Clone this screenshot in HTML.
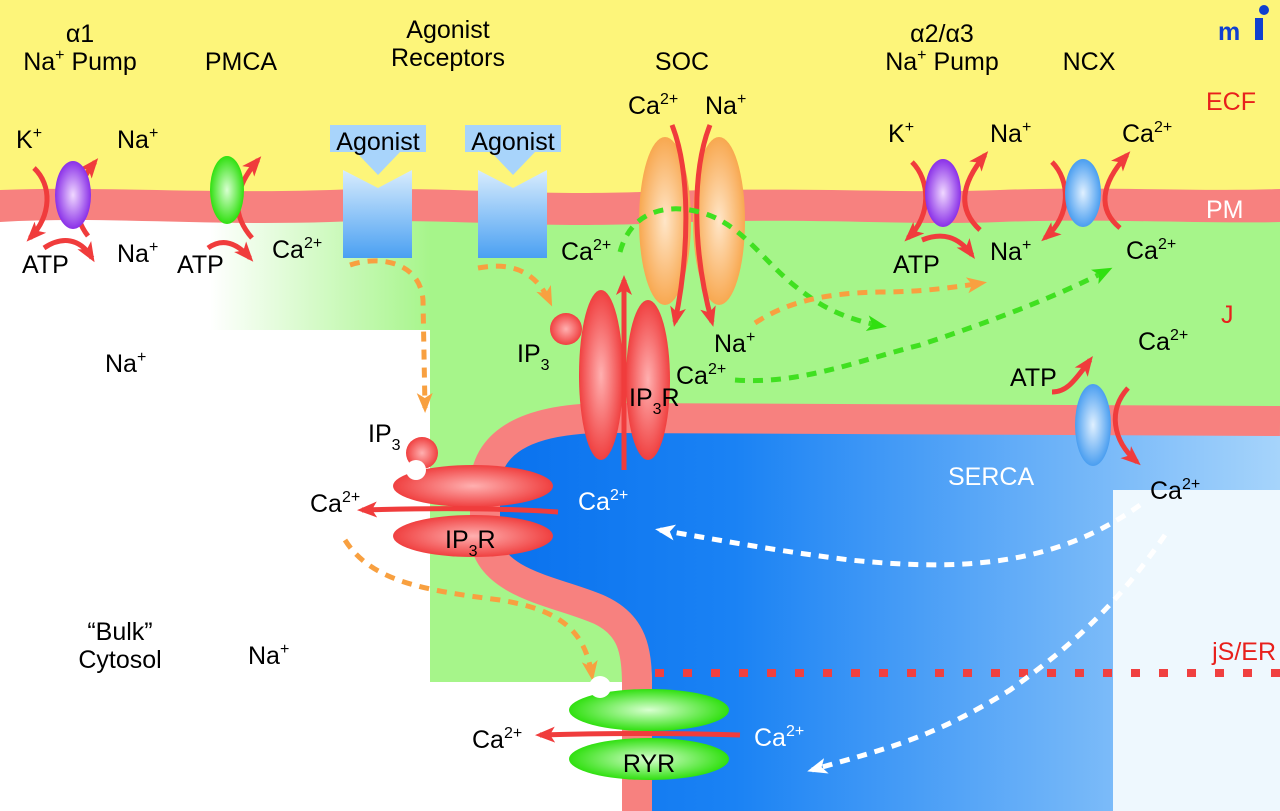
<!DOCTYPE html>
<html><head><meta charset="utf-8"><style>
html,body{margin:0;padding:0;background:#fff}
svg{display:block}
text{font-family:"Liberation Sans",sans-serif;font-size:25px;fill:#000}
.w{fill:#fff}.r{fill:#e8201c}
</style></head><body>
<svg width="1280" height="811" viewBox="0 0 1280 811" xmlns="http://www.w3.org/2000/svg">
<defs>
<linearGradient id="gfade" x1="0" x2="1" y1="0" y2="0">
<stop offset="0" stop-color="#a6f58a" stop-opacity="0"/><stop offset="1" stop-color="#a6f58a"/></linearGradient>
<linearGradient id="blue" x1="0" x2="1" y1="0" y2="0">
<stop offset="0" stop-color="#0a72ee"/><stop offset="0.3" stop-color="#1a82f4"/><stop offset="1" stop-color="#a6d4fb"/></linearGradient>
<linearGradient id="rec" x1="0" x2="0" y1="0" y2="1">
<stop offset="0" stop-color="#d8ecfd"/><stop offset="1" stop-color="#4aa0f2"/></linearGradient>
<radialGradient id="gpur"><stop offset="0" stop-color="#f0d8ff"/><stop offset="1" stop-color="#8a30e8"/></radialGradient>
<radialGradient id="ggrn"><stop offset="0" stop-color="#d8ffd0"/><stop offset="1" stop-color="#30e010"/></radialGradient>
<radialGradient id="gblu"><stop offset="0" stop-color="#e0f0ff"/><stop offset="1" stop-color="#4a9ef0"/></radialGradient>
<radialGradient id="gor"><stop offset="0" stop-color="#ffe6c8"/><stop offset="1" stop-color="#f8a850"/></radialGradient>
<radialGradient id="gred"><stop offset="0" stop-color="#ffb0b0"/><stop offset="1" stop-color="#f04040"/></radialGradient>
<marker id="ar" markerWidth="20" markerHeight="20" refX="15" refY="10" orient="auto" markerUnits="userSpaceOnUse">
<path d="M0,2 L20,10 L0,18 L5,10 Z" fill="#f03c3c"/></marker>
<marker id="ao" markerWidth="20" markerHeight="20" refX="15" refY="10" orient="auto" markerUnits="userSpaceOnUse">
<path d="M0,2 L20,10 L0,18 L5,10 Z" fill="#f8a040"/></marker>
<marker id="ag" markerWidth="20" markerHeight="20" refX="15" refY="10" orient="auto" markerUnits="userSpaceOnUse">
<path d="M0,2 L20,10 L0,18 L5,10 Z" fill="#30e010"/></marker>
<marker id="aw" markerWidth="20" markerHeight="20" refX="15" refY="10" orient="auto" markerUnits="userSpaceOnUse">
<path d="M0,2 L20,10 L0,18 L5,10 Z" fill="#fff"/></marker>
</defs>

<rect x="0" y="0" width="1280" height="811" fill="#fff"/>
<rect x="0" y="0" width="1280" height="205" fill="#fdf57a"/>
<rect x="430" y="205" width="850" height="477" fill="#a6f58a"/>
<rect x="210" y="205" width="222" height="125" fill="url(#gfade)"/>
<rect x="430" y="205" width="10" height="125" fill="#a6f58a"/>
<path d="M0,190 C100,186 200,194 330,190 C450,186 520,196 640,192 C800,186 900,194 1000,190 C1100,186 1200,192 1280,189 L1280,222 C1200,224 1100,218 1000,222 C900,226 800,216 640,224 C520,228 450,218 330,222 C200,226 100,216 0,222 Z" fill="#f7817f"/>
<path d="M1280,430 L560,432 C515,432 500,455 500,485 L500,540 C505,578 570,590 610,608 C645,625 652,650 652,685 L652,811 L1280,811 Z" fill="url(#blue)"/>
<rect x="1113" y="490" width="167" height="321" fill="#eef8fe"/>
<path d="M1280,421 L620,418 C530,416 487,440 485,485 L485,540 C492,585 560,592 600,610 C632,625 637,650 637,685 L637,811" fill="none" stroke="#f7817f" stroke-width="30"/>
<line x1="655" y1="673" x2="1280" y2="673" stroke="#f04040" stroke-width="8" stroke-dasharray="9,19"/>

<text x="80" y="42" text-anchor="middle" font-family="Liberation Serif">α1</text>
<text x="80" y="70" text-anchor="middle">Na<tspan font-size="16" dy="-10">+</tspan><tspan dy="10"> Pump</tspan></text>
<text x="241" y="70" text-anchor="middle">PMCA</text>
<text x="448" y="38" text-anchor="middle">Agonist</text>
<text x="448" y="66" text-anchor="middle">Receptors</text>
<text x="682" y="70" text-anchor="middle">SOC</text>
<text x="942" y="42" text-anchor="middle">α2/α3</text>
<text x="942" y="70" text-anchor="middle">Na<tspan font-size="16" dy="-10">+</tspan><tspan dy="10"> Pump</tspan></text>
<text x="1089" y="70" text-anchor="middle">NCX</text>
<text x="1206" y="110" class="r">ECF</text>
<text x="1206" y="218" class="w">PM</text>
<text x="1221" y="323" class="r">J</text>
<text x="1276" y="660" class="r" text-anchor="end" font-size="23">jS/ER</text>
<text x="1218" y="40" font-family="Liberation Serif" font-size="44" font-weight="bold" style="fill:#1040d0">m</text>
<rect x="1255" y="18" width="8" height="22" fill="#1040d0"/>
<circle cx="1264" cy="10" r="5" fill="#1040d0"/>

<path d="M34,168 C52,185 52,215 30,238" fill="none" stroke="#f03c3c" stroke-width="5" marker-end="url(#ar)"/>
<path d="M88,236 C72,215 72,190 95,162" fill="none" stroke="#f03c3c" stroke-width="5" marker-end="url(#ar)"/>
<path d="M44,248 C62,236 80,238 92,258" fill="none" stroke="#f03c3c" stroke-width="5" marker-end="url(#ar)"/>
<ellipse cx="73" cy="195" rx="18" ry="34" fill="url(#gpur)"/>
<text x="16" y="148">K<tspan font-size="16" dy="-10">+</tspan></text>
<text x="117" y="148">Na<tspan font-size="16" dy="-10">+</tspan></text>
<text x="22" y="273">ATP</text>
<text x="117" y="262">Na<tspan font-size="16" dy="-10">+</tspan></text>
<path d="M252,238 C232,215 232,190 258,160" fill="none" stroke="#f03c3c" stroke-width="5" marker-end="url(#ar)"/>
<path d="M208,248 C222,238 236,242 250,258" fill="none" stroke="#f03c3c" stroke-width="5" marker-end="url(#ar)"/>
<ellipse cx="227" cy="190" rx="17" ry="34" fill="url(#ggrn)"/>
<text x="177" y="273">ATP</text>
<text x="272" y="258">Ca<tspan font-size="16" dy="-10">2+</tspan></text>

<path d="M343,170 L378,188 L412,170 L412,258 L343,258 Z" fill="url(#rec)"/>
<path d="M330,125 L426,125 L426,152 L400,152 L378,175 L356,152 L330,152 Z" fill="#a8d4fb"/>
<text x="378" y="150" text-anchor="middle">Agonist</text>
<path d="M478,170 L513,188 L547,170 L547,258 L478,258 Z" fill="url(#rec)"/>
<path d="M465,125 L561,125 L561,152 L535,152 L513,175 L491,152 L465,152 Z" fill="#a8d4fb"/>
<text x="513" y="150" text-anchor="middle">Agonist</text>
<path d="M350,265 C380,255 420,262 423,300 L425,408" fill="none" stroke="#f8a040" stroke-width="5" stroke-dasharray="10,8" marker-end="url(#ao)"/>
<path d="M478,268 C510,262 535,270 550,302" fill="none" stroke="#f8a040" stroke-width="5" stroke-dasharray="10,8" marker-end="url(#ao)"/>

<ellipse cx="665" cy="221" rx="26" ry="84" fill="url(#gor)"/>
<ellipse cx="719" cy="221" rx="26" ry="84" fill="url(#gor)"/>
<path d="M672,125 C690,170 690,250 675,322" fill="none" stroke="#f03c3c" stroke-width="5" marker-end="url(#ar)"/>
<path d="M710,125 C692,170 692,250 712,322" fill="none" stroke="#f03c3c" stroke-width="5" marker-end="url(#ar)"/>
<text x="628" y="114">Ca<tspan font-size="16" dy="-10">2+</tspan></text>
<text x="705" y="114">Na<tspan font-size="16" dy="-10">+</tspan></text>
<text x="561" y="260">Ca<tspan font-size="16" dy="-10">2+</tspan></text>
<text x="714" y="352">Na<tspan font-size="16" dy="-10">+</tspan></text>
<text x="676" y="384">Ca<tspan font-size="16" dy="-10">2+</tspan></text>
<path d="M620,252 C630,215 660,205 690,210 C740,218 760,260 800,290 C820,305 840,318 882,326" fill="none" stroke="#40e020" stroke-width="5" stroke-dasharray="10,8" marker-end="url(#ag)"/>
<path d="M755,323 C790,300 830,293 880,292 C920,292 950,288 982,283" fill="none" stroke="#f8a040" stroke-width="5" stroke-dasharray="10,8" marker-end="url(#ao)"/>
<path d="M735,380 C800,385 860,360 920,345 C980,325 1050,300 1108,270" fill="none" stroke="#40e020" stroke-width="5" stroke-dasharray="10,8" marker-end="url(#ag)"/>

<ellipse cx="601" cy="375" rx="22" ry="85" fill="url(#gred)"/>
<ellipse cx="648" cy="380" rx="22" ry="80" fill="url(#gred)"/>
<circle cx="566" cy="329" r="16" fill="url(#gred)"/>
<path d="M624,470 L624,280" fill="none" stroke="#f03c3c" stroke-width="5" marker-end="url(#ar)"/>
<text x="517" y="362">IP<tspan font-size="16" dy="8">3</tspan></text>
<text x="629" y="406">IP<tspan font-size="16" dy="8">3</tspan><tspan dy="-8">R</tspan></text>

<ellipse cx="473" cy="486" rx="80" ry="21" fill="url(#gred)"/>
<ellipse cx="473" cy="536" rx="80" ry="21" fill="url(#gred)"/>
<circle cx="422" cy="453" r="16" fill="url(#gred)"/>
<circle cx="416" cy="470" r="10" fill="#fff"/>
<path d="M558,512 C500,508 430,508 362,510" fill="none" stroke="#f03c3c" stroke-width="5" marker-end="url(#ar)"/>
<text x="368" y="442">IP<tspan font-size="16" dy="8">3</tspan></text>
<text x="310" y="512">Ca<tspan font-size="16" dy="-10">2+</tspan></text>
<text x="445" y="548">IP<tspan font-size="16" dy="8">3</tspan><tspan dy="-8">R</tspan></text>
<text x="578" y="510" class="w">Ca<tspan font-size="16" dy="-10">2+</tspan></text>
<path d="M345,540 C370,580 420,590 500,600 C560,610 585,630 592,676" fill="none" stroke="#f8a040" stroke-width="5" stroke-dasharray="10,8" marker-end="url(#ao)"/>

<ellipse cx="649" cy="710" rx="80" ry="21" fill="url(#ggrn)"/>
<circle cx="600" cy="687" r="11" fill="#fff"/>
<ellipse cx="649" cy="759" rx="80" ry="21" fill="url(#ggrn)"/>
<path d="M740,735 C680,733 610,733 540,735" fill="none" stroke="#f03c3c" stroke-width="5" marker-end="url(#ar)"/>
<text x="472" y="748">Ca<tspan font-size="16" dy="-10">2+</tspan></text>
<text x="649" y="772" text-anchor="middle">RYR</text>
<text x="754" y="746" class="w">Ca<tspan font-size="16" dy="-10">2+</tspan></text>

<path d="M912,162 C930,180 932,215 908,238" fill="none" stroke="#f03c3c" stroke-width="5" marker-end="url(#ar)"/>
<path d="M980,230 C958,210 960,185 985,155" fill="none" stroke="#f03c3c" stroke-width="5" marker-end="url(#ar)"/>
<path d="M922,240 C942,232 958,236 972,255" fill="none" stroke="#f03c3c" stroke-width="5" marker-end="url(#ar)"/>
<ellipse cx="943" cy="193" rx="18" ry="34" fill="url(#gpur)"/>
<text x="888" y="142">K<tspan font-size="16" dy="-10">+</tspan></text>
<text x="990" y="142">Na<tspan font-size="16" dy="-10">+</tspan></text>
<text x="893" y="273">ATP</text>
<text x="990" y="260">Na<tspan font-size="16" dy="-10">+</tspan></text>
<path d="M1052,162 C1070,180 1072,215 1045,238" fill="none" stroke="#f03c3c" stroke-width="5" marker-end="url(#ar)"/>
<path d="M1120,228 C1098,210 1100,185 1127,155" fill="none" stroke="#f03c3c" stroke-width="5" marker-end="url(#ar)"/>
<ellipse cx="1083" cy="193" rx="18" ry="34" fill="url(#gblu)"/>
<text x="1122" y="142">Ca<tspan font-size="16" dy="-10">2+</tspan></text>
<text x="1126" y="259">Ca<tspan font-size="16" dy="-10">2+</tspan></text>
<ellipse cx="1093" cy="425" rx="18" ry="41" fill="url(#gblu)"/>
<path d="M1052,392 C1065,392 1072,385 1090,360" fill="none" stroke="#f03c3c" stroke-width="5" marker-end="url(#ar)"/>
<path d="M1128,388 C1108,410 1112,440 1137,462" fill="none" stroke="#f03c3c" stroke-width="5" marker-end="url(#ar)"/>
<text x="1010" y="386">ATP</text>
<text x="1138" y="350">Ca<tspan font-size="16" dy="-10">2+</tspan></text>
<text x="948" y="485" class="w">SERCA</text>
<text x="1150" y="499">Ca<tspan font-size="16" dy="-10">2+</tspan></text>

<path d="M1140,505 C1050,570 950,570 850,560 C770,550 720,540 660,530" fill="none" stroke="#fff" stroke-width="5" stroke-dasharray="10,8" marker-end="url(#aw)"/>
<path d="M1165,535 C1120,600 1080,640 1010,690 C930,740 880,750 812,770" fill="none" stroke="#fff" stroke-width="5" stroke-dasharray="10,8" marker-end="url(#aw)"/>

<text x="105" y="372">Na<tspan font-size="16" dy="-10">+</tspan></text>
<text x="120" y="640" text-anchor="middle">“Bulk”</text>
<text x="120" y="668" text-anchor="middle">Cytosol</text>
<text x="248" y="664">Na<tspan font-size="16" dy="-10">+</tspan></text>
</svg>
</body></html>
